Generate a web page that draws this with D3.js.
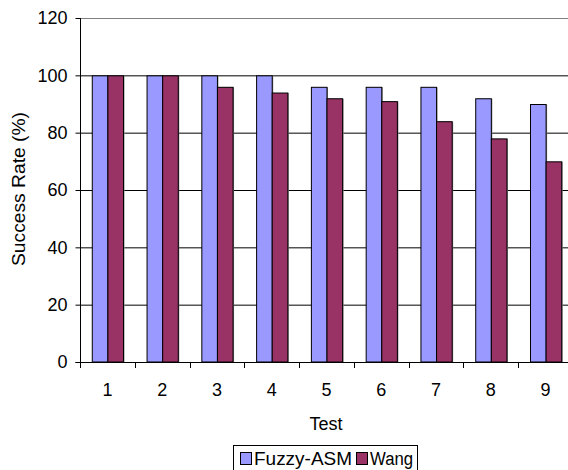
<!DOCTYPE html>
<html><head><meta charset="utf-8">
<script src="https://cdn.jsdelivr.net/npm/d3@7"></script>
<style>body{margin:0;background:#fff;} svg{display:block;font-family:"Liberation Sans",Arial,sans-serif;}</style>
</head><body>
<svg id="c" width="568" height="470"></svg>
<script>
const categories = ["1","2","3","4","5","6","7","8","9"];
const seriesNames = ["Fuzzy-ASM","Wang"];
const fuzzyASM = [100,100,100,100,96,96,96,92,90];
const wang = [100,100,96,94,92,91,84,78,70];
const yTicks = [0,20,40,60,80,100,120];
const colors = ["#9999FF","#993366"];

(function(){
const svg = d3.select("#c");
const pL = 80, pR = 573, pT = 18, pB = 362;
const x = d3.scaleBand().domain(categories).range([pL, pR]);
const y = d3.scaleLinear().domain([0,120]).range([pB, pT]);
const fs = 18;

// gridlines
svg.append("g").selectAll("line").data(yTicks.filter(d=>d>0)).join("line")
  .attr("x1", pL).attr("x2", pR)
  .attr("y1", d=>y(d)+0.5).attr("y2", d=>y(d)+0.5)
  .attr("stroke", d=> d===120 ? "#808080" : "#000").attr("stroke-width",1);

// bars
const data = categories.map((c,i)=>({c, vals:[fuzzyASM[i], wang[i]]}));
const bw = x.bandwidth();
const barW = bw*0.285;
const g = svg.append("g");
data.forEach(d=>{
  d.vals.forEach((v,j)=>{
    const bx = x(d.c) + bw/2 - barW + j*barW;
    g.append("rect").attr("x", bx+1.5).attr("y", y(v)+0.5)
      .attr("width", barW).attr("height", y(0)-y(v))
      .attr("fill","#888");
    g.append("rect").attr("x", bx+0.5).attr("y", y(v)+0.5)
      .attr("width", barW).attr("height", y(0)-y(v)-0.5)
      .attr("fill", colors[j]).attr("stroke","#000").attr("stroke-width",1);
  });
});

// y axis
const ya = svg.append("g").attr("transform",`translate(${pL+0.5},0)`)
  .call(d3.axisLeft(y).tickValues(yTicks).tickSize(5).tickPadding(8));
ya.selectAll("text").attr("font-size", fs).attr("fill","#000").attr("font-family","Liberation Sans, Arial, sans-serif");
ya.selectAll("line").attr("stroke","#000");
ya.select(".domain").attr("stroke","#000").attr("d",`M-5,${y(0)+0.5}H0V${pT}`);

// x axis
const xa = svg.append("g").attr("transform",`translate(0,${pB+0.5})`)
  .call(d3.axisBottom(x).tickSize(0).tickPadding(21));
xa.selectAll("text").attr("font-size", fs).attr("fill","#000").attr("font-family","Liberation Sans, Arial, sans-serif");
xa.select(".domain").attr("stroke","#000").attr("d",`M${pL},0H${pR}`);
svg.append("g").selectAll("line").data(categories.slice(1)).join("line")
  .attr("x1", d=> Math.round(x(d))+0.5)
  .attr("x2", d=> Math.round(x(d))+0.5)
  .attr("y1", pB).attr("y2", pB+6).attr("stroke","#000");
svg.append("line").attr("x1",pL+0.5).attr("x2",pL+0.5).attr("y1",pB).attr("y2",pB+6).attr("stroke","#000");

// axis titles
svg.append("text").attr("x", 326).attr("y", 430)
  .attr("text-anchor","middle").attr("font-size", fs).text("Test");
svg.append("text").attr("transform",`translate(25,189) rotate(-90)`)
  .attr("text-anchor","middle").attr("font-size", fs)
  .attr("textLength",154).attr("lengthAdjust","spacingAndGlyphs").text("Success Rate (%)");

// legend
const lg = svg.append("g");
lg.append("rect").attr("x",233.5).attr("y",445.5).attr("width",184).attr("height",30)
  .attr("fill","#fff").attr("stroke","#000");
const items = [{x:240, tx:254, w:98},{x:356, tx:370, w:43}];
seriesNames.forEach((n,i)=>{
  lg.append("rect").attr("x",items[i].x+0.5).attr("y",452.5).attr("width",11).attr("height",12)
    .attr("fill",colors[i]).attr("stroke","#000");
  lg.append("text").attr("x",items[i].tx).attr("y",465).attr("font-size",fs)
    .attr("textLength",items[i].w).attr("lengthAdjust","spacingAndGlyphs").text(n);
});
})();
</script>
</body></html>
